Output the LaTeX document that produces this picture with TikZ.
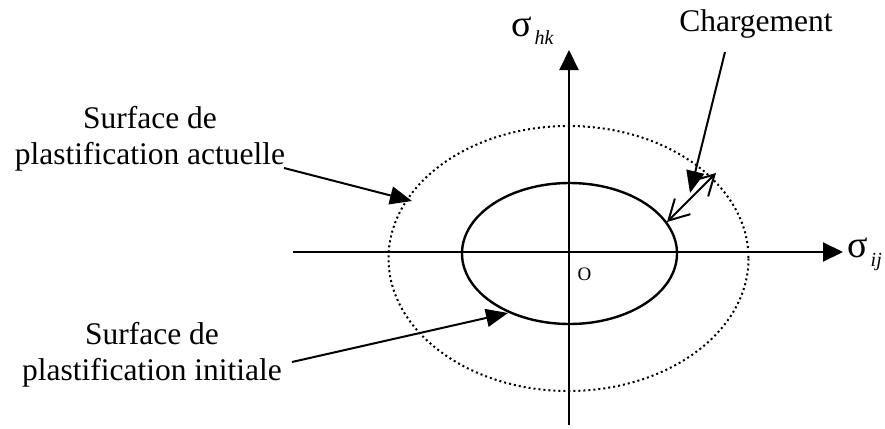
\documentclass[tikz,border=0pt]{standalone}
\usepackage{fontspec}
\setmainfont{Liberation Serif}
\usetikzlibrary{arrows.meta}
\begin{document}
\begin{tikzpicture}[x=1pt,y=-1pt,
  axis/.style={line width=2pt,-{Triangle[length=20pt,width=19pt]}},
  leader/.style={line width=2pt,-{Triangle[length=22pt,width=18pt]}},
  loadarrow/.style={line width=2pt,{Straight Barb[length=20pt,width=22pt,line width=2pt]}-{Straight Barb[length=20pt,width=22pt,line width=2pt]}},
  surf/.style={line width=2.4pt},
  dotsurf/.style={line width=2pt,dash pattern=on 2pt off 3pt},
  lbl/.style={inner sep=0pt,font=\fontsize{31.5}{36}\selectfont,align=center}
]
\useasboundingbox (0,0) rectangle (885,428);
% axes
\coordinate (xl) at (293,252);
\coordinate (xr) at (843,252);
\coordinate (yb) at (569,425);
\coordinate (yt) at (569,50);
\draw[axis] (xl) -- (xr);
\draw[axis] (yb) -- (yt);
% surfaces
\draw[surf] (569.5,253.5) ellipse [x radius=107.5, y radius=70.5];
\draw[dotsurf] (568.5,258.5) ellipse [x radius=180, y radius=132.5];
% labels
\node[lbl] (actu) at (150,139) {Surface de\\plastification actuelle};
\node[lbl] (init) at (152,355) {Surface de\\plastification initiale};
\node[inner sep=0pt,anchor=base,font=\fontsize{31.5}{36}\selectfont] (charg) at (756,32) {Chargement};
\node[inner sep=0pt,anchor=base,font=\fontsize{19}{19}\selectfont] (orig) at (584.5,280) {O};
\node[inner sep=0pt,anchor=base west] (shk) at (511,37) {\fontsize{38}{38}\selectfont σ\hspace{3pt}\raisebox{-8pt}{\fontsize{20}{20}\selectfont\itshape hk}};
\node[inner sep=0pt,anchor=base west] (sij) at (847,257) {\fontsize{38}{38}\selectfont σ\hspace{3pt}\raisebox{-9pt}{\fontsize{20}{20}\selectfont\itshape ij}};
% leaders
\coordinate (a1s) at (284,168);
\coordinate (a1e) at (412,201);
\coordinate (a2s) at (292,362);
\coordinate (a2e) at (508,313);
\coordinate (a3s) at (725,52);
\coordinate (a3e) at (690,193);
\coordinate (ldin) at (667,222);
\coordinate (ldout) at (716,173);
\draw[leader] (a1s) -- (a1e);
\draw[leader] (a2s) -- (a2e);
\draw[leader] (a3s) -- (a3e);
\draw[loadarrow] (ldin) -- (ldout);
\end{tikzpicture}
\end{document}
